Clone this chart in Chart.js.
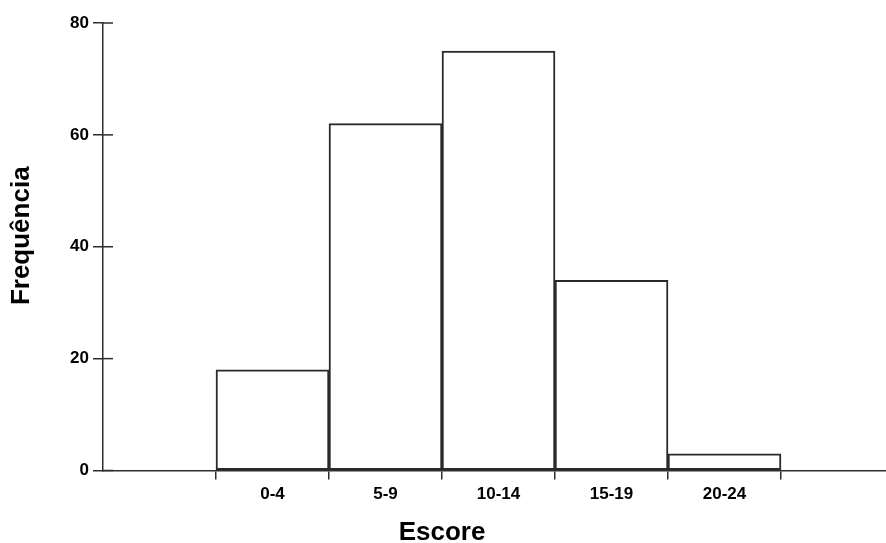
<!DOCTYPE html>
<html>
<head>
<meta charset="utf-8">
<script src="https://cdn.jsdelivr.net/npm/chart.js@4"></script>
<style>
  html, body { margin: 0; padding: 0; background: #fff; overflow: hidden; }
  #wrap { width: 900px; height: 543px; }
</style>
</head>
<body>
<div id="wrap"><canvas id="hist"></canvas></div>
<script>
const categories = ["", "0-4", "5-9", "10-14", "15-19", "20-24", ""];
const frequencies = [null, 18, 62, 75, 34, 3, null];
const yTicks = [0, 20, 40, 60, 80];
const xTitle = "Escore";
const yTitle = "Frequência";

const FONT = "'Liberation Sans', Arial, sans-serif";
const INK = "#2e2e2e";

// titles + the inner half of the y tick marks
const axisExtras = {
  id: "axisExtras",
  afterDraw(chart) {
    const { ctx, chartArea, scales } = chart;
    const y = scales.y;
    const x = scales.x;
    ctx.save();
    ctx.strokeStyle = INK;
    ctx.lineWidth = 1.5;
    y.ticks.forEach((t) => {
      const py = y.getPixelForValue(t.value);
      ctx.beginPath();
      ctx.moveTo(chartArea.left, py);
      ctx.lineTo(chartArea.left + 10, py);
      ctx.stroke();
    });

    ctx.fillStyle = "#000";
    ctx.font = "bold 26px " + FONT;
    ctx.textAlign = "center";
    ctx.textBaseline = "middle";

    const cx = (x.getPixelForValue(0) + x.getPixelForValue(5)) / 2;
    ctx.fillText(xTitle, cx, chartArea.bottom + 62);

    ctx.translate(22, (chartArea.top + chartArea.bottom) / 2 - 11);
    ctx.rotate(-Math.PI / 2);
    ctx.fillText(yTitle, 0, 0);
    ctx.restore();
  },
};

new Chart(document.getElementById("hist"), {
  type: "bar",
  data: {
    labels: categories,
    datasets: [
      {
        data: frequencies,
        backgroundColor: "#fff",
        borderColor: "#2a2a2a",
        borderWidth: 2,
        borderSkipped: false,
        barPercentage: 1,
        categoryPercentage: 1,
      },
    ],
  },
  options: {
    responsive: true,
    maintainAspectRatio: false,
    animation: false,
    layout: { padding: { top: 23, right: 6, left: 0, bottom: 0 } },
    plugins: {
      legend: { display: false },
      tooltip: { enabled: false },
    },
    scales: {
      x: {
        offset: true,
        afterFit: (s) => { s.height = 72.5; },
        border: { display: true, color: INK, width: 1.5 },
        grid: {
          offset: true,
          drawOnChartArea: false,
          tickLength: 9,
          lineWidth: 1.5,
          color: (c) => (c.index >= 1 && c.index <= 6 ? INK : "rgba(0,0,0,0)"),
        },
        ticks: {
          color: "#000",
          padding: 5,
          autoSkip: false,
          maxRotation: 0,
          font: { family: FONT, size: 17, weight: "bold" },
        },
      },
      y: {
        min: 0,
        max: 80,
        afterFit: (s) => { s.width = 103; },
        afterBuildTicks: (s) => { s.ticks = yTicks.map((v) => ({ value: v })); },
        border: { display: true, color: INK, width: 1.5 },
        grid: {
          drawOnChartArea: false,
          tickLength: 10,
          lineWidth: 1.5,
          color: INK,
        },
        ticks: {
          color: "#000",
          padding: 4,
          font: { family: FONT, size: 17, weight: "bold" },
        },
      },
    },
  },
  plugins: [axisExtras],
});
</script>
</body>
</html>
